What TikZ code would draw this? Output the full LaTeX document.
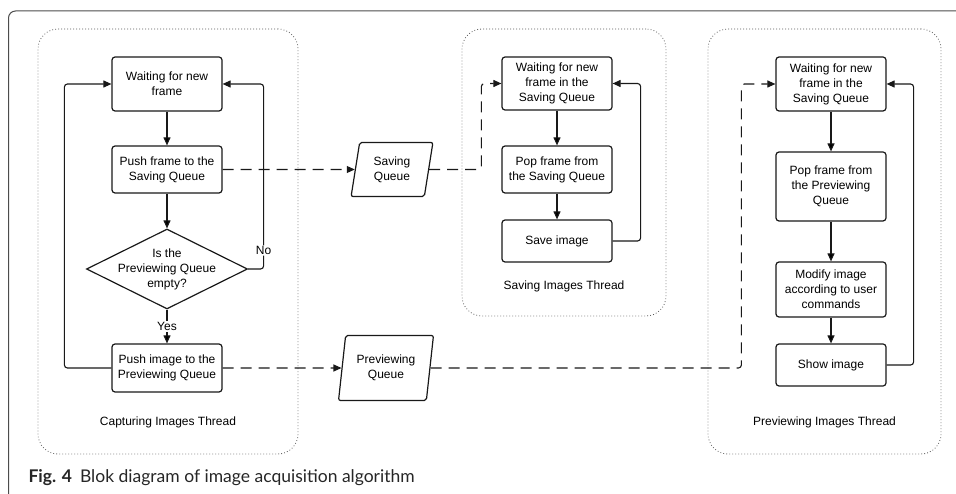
\documentclass[tikz,border=0pt]{standalone}
\usepackage{fontspec}
\setmainfont{Liberation Sans}
\newfontfamily\capfont{Lato}
\usetikzlibrary{arrows.meta, positioning, shapes.geometric}

\tikzset{
  block/.style={draw=black!90, line width=1.2pt, rounded corners=3pt, minimum width=110pt,
    align=center, inner sep=3pt, font=\fontsize{12}{15}\selectfont},
  decision/.style={diamond, shape aspect=2, draw=black!90, line width=1.2pt, minimum width=161pt, minimum height=80pt,
    inner sep=-6pt, align=center, font=\fontsize{12}{15}\selectfont},
  queue/.style={trapezium, trapezium left angle=80, trapezium right angle=100, trapezium stretches=true,
    draw=black!90, line width=1.2pt, rounded corners=2pt, align=center, font=\fontsize{12}{15}\selectfont},
  thread/.style={draw=black!65, line width=0.8pt, dash pattern=on 0.8pt off 2.2pt, rounded corners=20pt},
  threadlabel/.style={font=\fontsize{12}{15}\selectfont},
  flow/.style={line width=1.1pt, draw=black!90, -{Triangle[length=8pt,width=7pt]}},
  datalink/.style={flow, dash pattern=on 11pt off 7pt},
  answer/.style={fill=white, inner sep=1pt, font=\fontsize{12}{15}\selectfont},
}

\begin{document}
\begin{tikzpicture}[x=1pt, y=-1pt, node distance=2cm, on grid]
  \useasboundingbox (0,0) rectangle (956,494);

  % figure frame and caption
  \draw[black!70, line width=1pt, rounded corners=7pt] (8.5,494) |- (956,11);
  \node[anchor=base west, text=black!85, font=\capfont\fontsize{17.5}{20}\selectfont] (caption) at (25,482)
    {\textbf{Fig. 4}\hspace{8pt}Blok diagram of image acquisition algorithm};

  % threads
  \node[thread, minimum width=260pt, minimum height=425pt] (capt) at (168,241.5) {};
  \node[thread, minimum width=204pt, minimum height=287pt] (savt) at (564,172.5) {};
  \node[thread, minimum width=233pt, minimum height=425pt] (prevt) at (824.5,241.5) {};
  \node[threadlabel, above=23pt of capt.south] (captlabel) {Capturing Images Thread};
  \node[threadlabel, above=21pt of savt.south] (savtlabel) {Saving Images Thread};
  \node[threadlabel, above=23pt of prevt.south] (prevtlabel) {Previewing Images Thread};

  % capturing images
  \node[block, minimum height=54pt] (W1) at (167,84) {Waiting for new\\frame};
  \node[block, minimum height=47pt, below=85.5pt of W1] (PF) {Push frame to the\\Saving Queue};
  \node[decision, below=99.5pt of PF] (D) {Is the\\Previewing Queue\\empty?};
  \node[block, minimum height=48pt, below=99pt of D] (PI) {Push image to the\\Previewing Queue};

  % queues
  \node[queue, minimum width=82pt, minimum height=54pt, right=225pt of PF] (SQ) {Saving\\Queue};
  \node[queue, minimum width=95pt, minimum height=65pt, right=219pt of PI] (PQ) {Previewing\\Queue};

  % saving images
  \node[block, minimum height=53pt] (W2) at (557,83.5) {Waiting for new\\frame in the\\Saving Queue};
  \node[block, minimum height=47pt, below=86pt of W2] (PS) {Pop frame from\\the Saving Queue};
  \node[block, minimum height=42pt, below=71.5pt of PS] (SI) {Save image};

  % previewing images
  \node[block, minimum height=54pt] (W3) at (831,84) {Waiting for new\\frame in the\\Saving Queue};
  \node[block, minimum height=69pt, below=102.5pt of W3] (PP) {Pop frame from\\the Previewing\\Queue};
  \node[block, minimum height=55pt, below=103pt of PP] (MI) {Modify image\\according to user\\commands};
  \node[block, minimum height=42pt, below=75.5pt of MI] (SH) {Show image};

  \path[flow] (W1) edge (PF)
              (PF) edge (D)
              (D) edge node[answer] {Yes} (PI)
              (W2) edge (PS)
              (PS) edge (SI)
              (W3) edge (PP)
              (PP) edge (MI)
              (MI) edge (SH);

  \draw[flow, rounded corners=3pt] (PI.west) -| ([xshift=-47pt]W1.west) -- (W1.west);
  \draw[flow, rounded corners=3pt] (D.east) -| node[answer, pos=0.55] {No} ([xshift=41pt]W1.east) -- (W1.east);
  \draw[flow, rounded corners=3pt] (SI.east) -| ([xshift=28pt]W2.east) -- (W2.east);
  \draw[flow, rounded corners=3pt] (SH.east) -| ([xshift=27pt]W3.east) -- (W3.east);

  % queue links
  \draw[datalink] (PF.east) -- (SQ);
  \draw[datalink, rounded corners=3pt] (SQ.east) -| ([xshift=-20pt]W2.west) -- (W2.west);
  \draw[datalink] (PI.east) -- (PQ);
  \draw[datalink, rounded corners=3pt] (PQ.east) -| ([xshift=-34pt]W3.west) -- (W3.west);
\end{tikzpicture}
\end{document}
